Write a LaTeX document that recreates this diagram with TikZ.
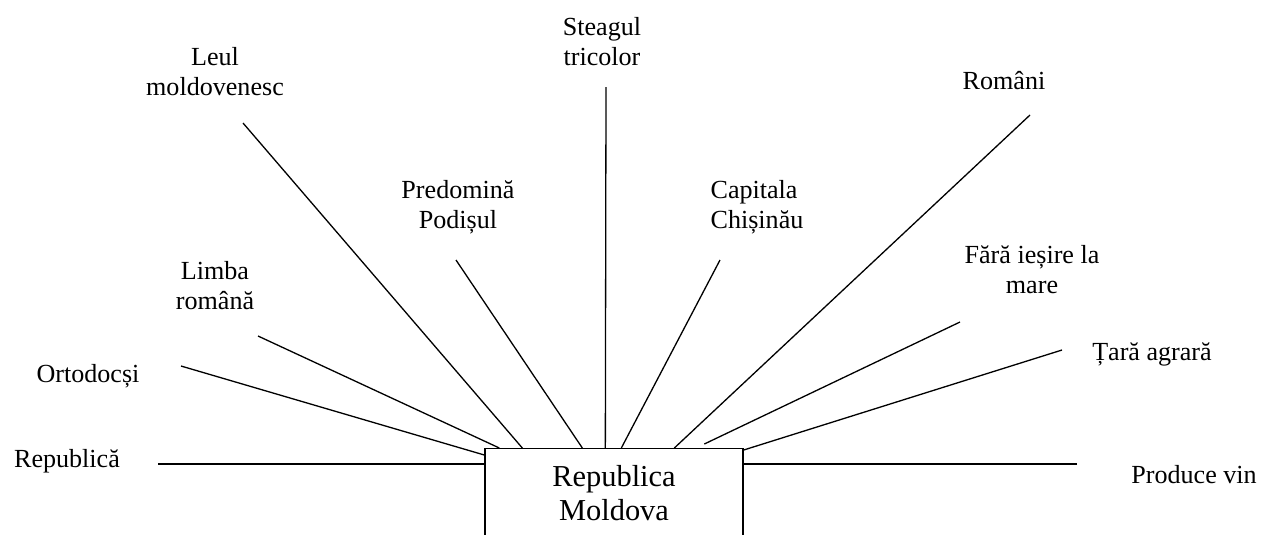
\documentclass[tikz,border=0pt]{standalone}
\usepackage{fontspec}
\setmainfont{Liberation Serif}
\usetikzlibrary{positioning}
\newcommand{\pxu}{0.46pt}

\begin{document}
\begin{tikzpicture}[x=\pxu, y=-\pxu, line width=0.6pt,
  feature/.style={align=center, inner sep=0pt, font=\fontsize{12}{13.8}\selectfont},
  country/.style={draw, anchor=north, minimum width=118.7pt, inner xsep=0pt, inner ysep=7.8pt,
                  align=center, font=\fontsize{14}{15.5}\selectfont}]
  \useasboundingbox (0,0) rectangle (1261,534);

  \node[country] (rm) at (614,448) {Republica\\Moldova};

  \node[feature] (republica) at (67,461) {Republică};
  \node[feature] (ortodocsi) at (88,376) {Ortodocși};
  \node[feature] (limba) at (215,286) {Limba\\română};
  \node[feature] (leul) at (215,72) {Leul\\moldovenesc};
  \node[feature] (podis) at (458,207) {Predomină\\Podișul};
  \node[feature] (steag) at (602,42) {Steagul\\tricolor};
  \node[feature, align=left] (capitala) at (757,207) {Capitala\\Chișinău};
  \node[feature] (romani) at (1004,81) {Români};
  \node[feature] (mare) at (1032,270) {Fără ieșire la\\mare};
  \node[feature] (agrara) at (1152,354) {Țară agrară};
  \node[feature] (vin) at (1194,475) {Produce vin};

  \coordinate (republica_e) at (158,464);
  \coordinate (ortodocsi_e) at (181,366);
  \coordinate (limba_e) at (258,336);
  \coordinate (leul_e) at (243,123);
  \coordinate (podis_e) at (456,260);
  \coordinate (steag_e) at (606,87);
  \coordinate (capitala_e) at (720,260);
  \coordinate (romani_e) at (1030,115);
  \coordinate (mare_e) at (960,322);
  \coordinate (agrara_e) at (1062,350);
  \coordinate (vin_e) at (1077,464);

  \path[draw]
  (republica_e) edge ([yshift=-16*\pxu]rm.north west)
  (ortodocsi_e) edge ([yshift=-7*\pxu]rm.north west)
  (limba_e)     edge ([xshift=15*\pxu]rm.north west)
  (leul_e)      edge ([xshift=38*\pxu]rm.north west)
  (podis_e)     edge ([xshift=98*\pxu]rm.north west)
  (steag_e)     edge ([xshift=121*\pxu]rm.north west)
  (capitala_e)  edge ([xshift=137*\pxu]rm.north west)
  (romani_e)    edge ([xshift=190*\pxu]rm.north west)
  (mare_e)      edge ([xshift=220*\pxu, yshift=4*\pxu]rm.north west)
  (agrara_e)    edge ([yshift=-2*\pxu]rm.north east)
  (vin_e)       edge ([yshift=-16*\pxu]rm.north east);
\end{tikzpicture}
\end{document}
